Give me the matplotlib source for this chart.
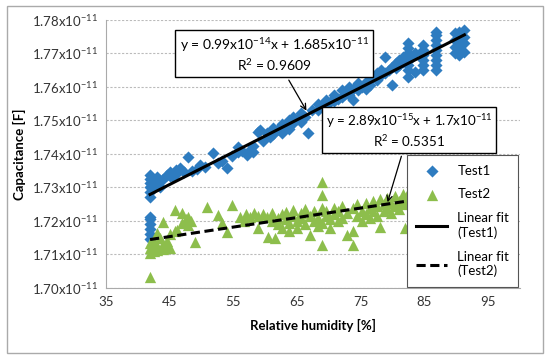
import matplotlib
matplotlib.use('Agg')
import matplotlib.pyplot as plt
import numpy as np
from matplotlib.patches import Rectangle

plt.rcParams['font.family'] = ['Lato', 'DejaVu Sans']
plt.rcParams['mathtext.fontset'] = 'custom'
plt.rcParams['mathtext.rm'] = 'Lato'
plt.rcParams['mathtext.it'] = 'Lato:italic'

# Test1 data (capacitance in units of 1e-11 F)
x1 = [41.9, 41.9, 41.9, 41.9, 41.9, 41.9, 41.9, 41.9, 41.9, 41.9, 41.9, 41.9,
      42.5, 42.5, 43.0, 43.0, 43.5, 43.5, 44.0, 44.5, 45.0, 45.0, 45.5, 46.0, 46.0,
      46.6, 47.2, 47.9, 48.5, 49.2, 49.8, 50.5, 51.8, 52.5, 53.2, 54.0, 54.8,
      55.7, 55.7, 56.4, 57.1, 57.6, 58.1, 58.1, 58.9, 59.2, 59.6, 60.3, 60.8,
      61.2, 61.2, 61.8, 62.6, 62.6, 63.2, 63.8, 63.8, 64.4, 64.4, 65.0, 65.6, 65.6,
      66.2, 66.7, 67.3, 68.3, 68.3, 68.9, 69.5, 69.5, 70.2, 70.8, 70.8, 71.4,
      72.0, 72.0, 72.6, 73.2, 73.2, 73.8, 73.8, 74.6, 74.6, 75.2, 75.8, 75.8,
      76.4, 76.4, 77.0, 77.6, 77.6, 78.2, 78.2, 78.8, 78.8, 79.4, 79.9, 79.9,
      80.5, 80.5, 81.1, 81.1, 81.7, 81.7,
      82.4, 82.4, 82.4, 82.4, 82.4, 82.4, 82.4, 83.0, 83.5, 83.5,
      84.8, 84.8, 84.8, 84.8, 84.8, 84.8,
      86.8, 86.8, 86.8, 86.8, 86.8, 86.8, 86.8, 86.8, 86.8,
      89.8, 89.8, 89.8, 89.8, 90.5, 90.5, 90.5, 90.5, 90.5,
      91.3, 91.3, 91.3, 91.3]
c1 = [1.7145, 1.7160, 1.7175, 1.7190, 1.7205, 1.7213, 1.7272, 1.7285, 1.7300, 1.7312, 1.7325, 1.7337,
      1.7300, 1.7320, 1.7310, 1.7330, 1.7320, 1.7300, 1.7325, 1.7338, 1.7335, 1.7346, 1.7330, 1.7352, 1.7340,
      1.7358, 1.7346, 1.7390, 1.7350, 1.7355, 1.7367, 1.7360, 1.7403, 1.7372, 1.7380, 1.7358, 1.7395,
      1.7420, 1.7405, 1.7410, 1.7397, 1.7412, 1.7406, 1.7425, 1.7466, 1.7472, 1.7440, 1.7463, 1.7450,
      1.7478, 1.7460, 1.7470, 1.7490, 1.7463, 1.7485, 1.7500, 1.7475, 1.7510, 1.7492, 1.7505, 1.7522, 1.7495,
      1.7510, 1.7463, 1.7530, 1.7531, 1.7550, 1.7545, 1.7560, 1.7540, 1.7555, 1.7575, 1.7558, 1.7565,
      1.7590, 1.7570, 1.7580, 1.7600, 1.7575, 1.7560, 1.7595, 1.7612, 1.7590, 1.7600, 1.7615, 1.7595,
      1.7625, 1.7605, 1.7630, 1.7620, 1.7640, 1.7635, 1.7650, 1.7689, 1.7640, 1.7650, 1.7606, 1.7660,
      1.7655, 1.7670, 1.7665, 1.7680, 1.7675, 1.7690,
      1.7630, 1.7650, 1.7665, 1.7680, 1.7700, 1.7715, 1.7731, 1.7690, 1.7645, 1.7700,
      1.7651, 1.7666, 1.7680, 1.7695, 1.7710, 1.7725,
      1.7651, 1.7666, 1.7680, 1.7695, 1.7710, 1.7725, 1.7740, 1.7755, 1.7764,
      1.7700, 1.7720, 1.7740, 1.7760, 1.7695, 1.7710, 1.7725, 1.7745, 1.7765,
      1.7705, 1.7730, 1.7750, 1.7770]

# Test2 data
x2 = [41.9, 41.9, 41.9, 41.9, 42.5, 42.5, 43.0, 43.0, 43.0, 43.5, 44.0, 44.0, 44.0,
      44.5, 44.5, 45.0, 45.0, 45.8, 45.8, 46.1, 46.9, 46.9, 47.5, 47.9, 47.9, 48.3,
      49.0, 50.9, 52.6, 53.2, 54.0, 54.8, 56.0, 56.6, 57.0, 57.6, 58.3, 58.9, 58.9,
      59.6, 60.3, 60.5, 61.0, 61.0, 61.5, 62.0, 62.0, 62.6, 62.6, 63.2, 63.2,
      63.8, 63.8, 64.4, 64.4, 65.0, 65.0, 65.6, 65.6, 66.2, 66.2, 67.0, 67.0,
      67.6, 67.6, 68.3, 68.3, 68.9, 68.9, 68.9, 68.9, 68.9, 69.5, 69.5, 70.2, 70.2,
      70.8, 70.8, 71.4, 71.4, 72.0, 72.0, 72.8, 72.8, 73.8, 73.8, 73.8, 74.5, 74.5,
      75.2, 75.2, 75.8, 75.8, 76.4, 76.4, 77.0, 77.0, 77.6, 77.6, 78.0, 78.0,
      78.6, 78.6, 79.2, 79.2, 79.8, 79.8, 80.4, 80.4, 81.0, 81.0, 81.6, 81.6,
      82.0, 82.0, 82.6, 82.6, 83.0, 83.0, 83.0, 83.0, 83.5, 83.5, 84.5, 84.5,
      85.5, 85.5, 86.5, 86.5, 87.5, 87.5, 88.5, 88.5]
c2 = [1.7033, 1.7120, 1.7135, 1.7105, 1.7110, 1.7140, 1.7164, 1.7113, 1.7125, 1.7150, 1.7197, 1.7130, 1.7115,
      1.7120, 1.7140, 1.7120, 1.7160, 1.7233, 1.7170, 1.7173, 1.7224, 1.7195, 1.7205, 1.7212, 1.7188, 1.7200,
      1.7137, 1.7242, 1.7218, 1.7195, 1.7167, 1.7248, 1.7212, 1.7200, 1.7222, 1.7212, 1.7224, 1.7179, 1.7215,
      1.7222, 1.7212, 1.7152, 1.7200, 1.7225, 1.7149, 1.7210, 1.7190, 1.7220, 1.7180, 1.7205, 1.7228,
      1.7195, 1.7170, 1.7215, 1.7232, 1.7200, 1.7180, 1.7225, 1.7210, 1.7235, 1.7190, 1.7158, 1.7215,
      1.7230, 1.7200, 1.7210, 1.7185, 1.7316, 1.7278, 1.7128, 1.7240, 1.7195, 1.7215, 1.7230, 1.7205, 1.7180,
      1.7240, 1.7220, 1.7200, 1.7230, 1.7245, 1.7210, 1.7158, 1.7225, 1.7128, 1.7170, 1.7240, 1.7250, 1.7215,
      1.7230, 1.7200, 1.7255, 1.7220, 1.7240, 1.7210, 1.7260, 1.7230, 1.7245, 1.7215, 1.7182, 1.7265,
      1.7250, 1.7230, 1.7270, 1.7240, 1.7255, 1.7225, 1.7275, 1.7245, 1.7260, 1.7235, 1.7280, 1.7250,
      1.7179, 1.7265, 1.7290, 1.7255, 1.7346, 1.7320, 1.7300, 1.7270, 1.7310, 1.7285, 1.7300, 1.7270,
      1.7290, 1.7260, 1.7310, 1.7280, 1.7295, 1.7265, 1.7300, 1.7275]

y_ticks = [1.70, 1.71, 1.72, 1.73, 1.74, 1.75, 1.76, 1.77, 1.78]
x_ticks = [35, 45, 55, 65, 75, 85, 95]

eq1 = 'y = 0.99x10$^{-14}$x + 1.685x10$^{-11}$\nR$^2$ = 0.9609'
eq2 = 'y = 2.89x10$^{-15}$x + 1.7x10$^{-11}$\nR$^2$ = 0.5351'

blue = '#2E7CC0'
green = '#8DBE4C'

x1 = np.array(x1)
y1 = np.array(c1) * 1e-11
x2 = np.array(x2)
y2 = np.array(c2) * 1e-11

fig = plt.figure(figsize=(5.5, 3.58), dpi=100)
ax = fig.add_axes([0.193, 0.1955, 0.752, 0.749])

ax.scatter(x1, y1, marker='D', s=38, color=blue, linewidths=0, label='Test1', zorder=3)
ax.scatter(x2, y2, marker='^', s=66, color=green, linewidths=0, label='Test2', zorder=3)

# linear fits
p1 = np.polyfit(x1, y1, 1)
p2 = np.polyfit(x2, y2, 1)
xf1 = np.array([x1.min(), x1.max()])
xf2 = np.array([x2.min(), x2.max()])
ax.plot(xf1, np.polyval(p1, xf1), color='black', lw=2.2, label='Linear fit\n(Test1)', zorder=4)
ax.plot(xf2, np.polyval(p2, xf2), color='black', lw=2.2, ls=(0, (3, 1.5)),
        label='Linear fit\n(Test2)', zorder=4)

ax.set_xlim(35, 100)
ax.set_ylim(1.70e-11, 1.78e-11)
ax.set_xticks(x_ticks)
ax.set_yticks(np.array(y_ticks) * 1e-11)
ax.set_yticklabels([f'{v:.2f}x10$^{{-11}}$' for v in y_ticks])
ax.tick_params(length=0, labelsize=9.5, colors='#333333', pad=6)
ax.grid(axis='y', color='#BBBBBB', ls=(0, (2, 1.5)), lw=0.8)
ax.set_axisbelow(True)
for s in ['top', 'right']:
    ax.spines[s].set_visible(False)
for s in ['left', 'bottom']:
    ax.spines[s].set_color('#AAAAAA')

ax.set_xlabel('Relative humidity [%]', fontsize=9.5, fontweight='bold', labelpad=8)
ax.set_ylabel('Capacitance [F]', fontsize=9.5, fontweight='bold', labelpad=4)

box = dict(boxstyle='square,pad=0.3', fc='white', ec='black', lw=1)
ax.annotate(eq1, xy=(66.7, 1.7522e-11), xytext=(61.4, 1.7696e-11), ha='center', va='center',
            fontsize=10, bbox=box, zorder=6,
            arrowprops=dict(arrowstyle='->', color='black', lw=0.9))
ax.annotate(eq2, xy=(79.1, 1.7248e-11), xytext=(82.6, 1.7469e-11), ha='center', va='center',
            fontsize=9.6, bbox=box, zorder=6,
            arrowprops=dict(arrowstyle='->', color='black', lw=0.9))

leg = ax.legend(loc='lower right', fontsize=9.5, frameon=True, fancybox=False, framealpha=1,
                edgecolor='#555555', borderaxespad=0.1, handlelength=2.3,
                labelspacing=0.9, borderpad=0.7)
leg.get_frame().set_linewidth(0.8)
leg.set_zorder(7)

fig.patches.append(Rectangle((0.013, 0.014), 0.974, 0.97, transform=fig.transFigure,
                             fill=False, ec='#AAAAAA', lw=1))

fig.savefig('out.png', dpi=100)
